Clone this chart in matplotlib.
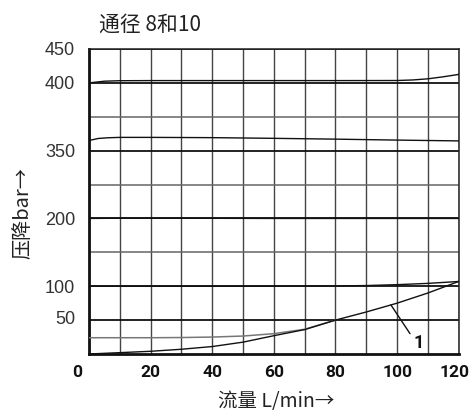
import numpy as np
import matplotlib
matplotlib.use("Agg")
import matplotlib.pyplot as plt
from matplotlib.transforms import ScaledTranslation

# Pressure-axis breakpoints: value (bar) -> grid row
axis_bar = [0, 50, 100, 200, 350, 400, 450]
axis_row = [0, 1, 2, 4, 6, 8, 9]

y_ticks = [50, 100, 200, 350, 400, 450]
y_minor = [150, 275, 375]
x_ticks = [0, 20, 40, 60, 80, 100, 120]

# Characteristic curves: flow (L/min) vs pressure drop (bar)
flow_400 = [0, 5, 10, 20, 40, 60, 80, 100, 105, 110, 115, 120]
dp_400 = [400, 402.5, 403.2, 403.4, 403.4, 403.4, 403.4, 403.5, 404.3, 406, 409, 412.5]

flow_350 = [0, 3, 6, 10, 20, 40, 60, 80, 100, 120]
dp_350 = [357.5, 359, 359.5, 359.8, 359.8, 359.6, 359.1, 358.5, 357.8, 357.2]

flow_200 = [0, 10, 20, 40, 60, 80, 100, 120]
dp_200 = [200, 200.5, 200.6, 200.3, 200, 200, 200, 200]

flow_100 = [0, 20, 40, 60, 80, 90, 100, 110, 120]
dp_100 = [100, 100, 100, 100, 100.4, 101, 102.3, 104.2, 107]

flow_25 = [0, 10, 20, 30, 40, 50, 60, 70, 80]
dp_25 = [24, 24, 24, 24.3, 25, 26.5, 30, 36.5, 50]

flow_1 = [0, 10, 20, 30, 40, 50, 60, 70, 80, 90, 100, 110, 120]
dp_1 = [0, 2, 4, 7, 11, 17.5, 27, 36, 50, 62, 75, 90, 107]

cjk = ["Noto Sans CJK SC", "DejaVu Sans"]


def fwd(v):
    return np.interp(v, axis_bar, axis_row)


def inv(r):
    return np.interp(r, axis_row, axis_bar)


W, H = 469, 413
fig = plt.figure(figsize=(W / 100, H / 100), dpi=100)
ax = fig.add_axes([89 / W, 1 - 354 / H, (458.7 - 89) / W, (354 - 49) / H])
ax.set_yscale("function", functions=(fwd, inv))
ax.set_xlim(0, 120)
ax.set_ylim(0, 450)

# grid
ax.set_xticks(x_ticks)
ax.set_xticks(np.arange(10, 120, 20), minor=True)
ax.set_yticks(y_ticks)
ax.set_yticks(y_minor, minor=True)
ax.grid(axis="x", which="both", color="#444444", lw=1.0)
ax.grid(axis="y", which="major", color="#111111", lw=1.3)
ax.grid(axis="y", which="minor", color="#666666", lw=1.1)
ax.set_axisbelow(True)
ax.tick_params(which="both", length=0)

for side in ("left", "bottom"):
    ax.spines[side].set_linewidth(2.0)
    ax.spines[side].set_color("#111111")
for side in ("top", "right"):
    ax.spines[side].set_linewidth(1.1)
    ax.spines[side].set_color("#222222")

# tick labels
ax.set_xticklabels([str(v) for v in x_ticks], family="Roboto",
                   fontweight="bold", fontsize=12.5, color="#111111")
ax.tick_params(axis="x", pad=8)
ax.set_yticklabels([str(v) for v in y_ticks], family="Liberation Sans",
                   fontsize=13, color="#333333")
ax.tick_params(axis="y", pad=10)
fig.canvas.draw()
xl = ax.get_xticklabels()
xl[0].set_transform(xl[0].get_transform() + ScaledTranslation(-12 / 100, 0, fig.dpi_scale_trans))
xl[-1].set_transform(xl[-1].get_transform() + ScaledTranslation(-4 / 100, 0, fig.dpi_scale_trans))
yl = ax.get_yticklabels()
yl[0].set_transform(yl[0].get_transform() + ScaledTranslation(0, 3 / 100, fig.dpi_scale_trans))

# curves
lw = 1.0
ax.plot(flow_400, dp_400, color="#111111", lw=lw, zorder=3)
ax.plot(flow_350, dp_350, color="#111111", lw=lw, zorder=3)
ax.plot(flow_200, dp_200, color="#111111", lw=lw, zorder=3)
ax.plot(flow_100, dp_100, color="#111111", lw=lw, zorder=3)
ax.plot(flow_25, dp_25, color="#777777", lw=1.1, zorder=3)
ax.plot(flow_1, dp_1, color="#111111", lw=lw, zorder=3)

# label for curve 1
x_lab = 98
ax.annotate("", xy=(x_lab, np.interp(x_lab, flow_1, dp_1)), xytext=(104.2, 30),
            arrowprops=dict(arrowstyle="-", color="#111111", lw=1.0,
                            shrinkA=0, shrinkB=0), zorder=4)
ax.text(105.3, 16, "1", family="Roboto", fontweight="bold",
        fontsize=13, ha="left", va="center", color="#111111", zorder=4)

# titles
fig.text(150 / W, 1 - 24.5 / H, "通径 8和10", ha="center", va="center",
         family=cjk, fontsize=15, color="#222222")
fig.text(276 / W, 1 - 401.7 / H, "流量 L/min→", ha="center", va="center",
         family=cjk, fontsize=14, color="#222222")
fig.text(23 / W, 1 - 213 / H, "压降bar→", ha="center", va="center",
         rotation=90, family=cjk, fontsize=14.5, color="#222222")

fig.savefig("out.png", dpi=100)
